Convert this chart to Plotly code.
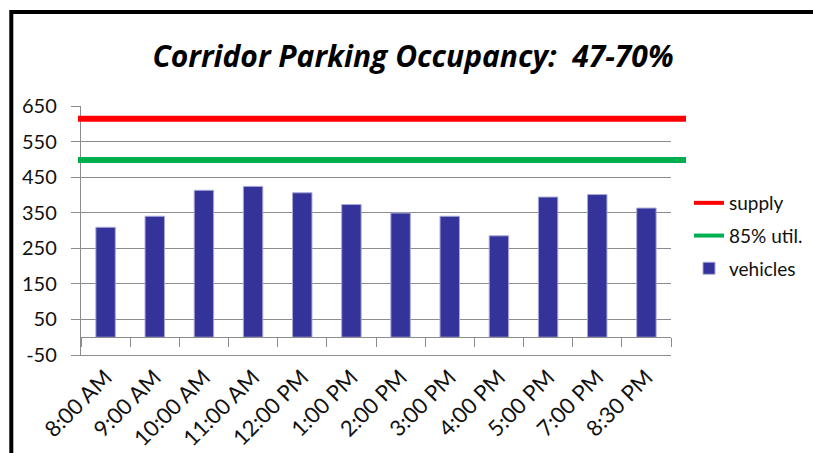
import plotly.graph_objects as go

# ---- data ----
times = ["8:00 AM", "9:00 AM", "10:00 AM", "11:00 AM", "12:00 PM", "1:00 PM",
         "2:00 PM", "3:00 PM", "4:00 PM", "5:00 PM", "7:00 PM", "8:30 PM"]
vehicles = [309, 340, 413, 424, 406, 373, 349, 340, 285, 394, 401, 363]
supply = 614
util85 = 498
y_ticks = [-50, 50, 150, 250, 350, 450, 550, 650]
y_tick_text = [str(v) + "\u00a0\u00a0" for v in y_ticks]

title_text = "Corridor Parking Occupancy:\u00a0\u00a047-70%"

RED = "#ff0000"
GREEN = "#00b050"
BLUE = "#333399"
GRID = "#8c8c8c"
FONT = "Lato, 'Open Sans', sans-serif"
TXT = "#111111"

W, H = 813, 453
L, R, T, B = 81, 142, 106, 98
pw, ph = W - L - R, H - T - B

def px_x(px):
    return (px - L) / pw

def px_y(py):
    return (H - B - py) / ph

fig = go.Figure()

# legend-only entries for the reference lines
fig.add_trace(go.Scatter(x=[None], y=[None], mode="lines", name="supply",
                         line=dict(color=RED, width=4), legendgroup="a"))
fig.add_trace(go.Scatter(x=[None], y=[None], mode="lines", name="85% util.",
                         line=dict(color=GREEN, width=4), legendgroup="b"))
fig.add_trace(go.Bar(x=times, y=vehicles, name="vehicles", legendgroup="c",
                     marker=dict(color=BLUE, line=dict(color="#a8a8d8", width=1))))
# helper trace for the category axis drawn at y = 0
fig.add_trace(go.Scatter(x=times, y=[None] * len(times), xaxis="x2",
                         showlegend=False, hoverinfo="skip", mode="lines"))

# supply and 85% lines (y from data, extend slightly beyond plot horizontally)
for val, col in [(supply, RED), (util85, GREEN)]:
    fig.add_shape(type="line", xref="paper", yref="y",
                  x0=px_x(78), x1=px_x(686), y0=val, y1=val,
                  line=dict(color=col, width=6), layer="above")

# outer black frame
fig.add_shape(type="rect", xref="paper", yref="paper",
              x0=px_x(11.3), x1=px_x(880), y0=px_y(500), y1=px_y(12),
              line=dict(color="black", width=4), fillcolor="rgba(0,0,0,0)")

ymin, ymax = -50, 650
fig.update_layout(
    width=W, height=H,
    margin=dict(l=L, r=R, t=T, b=B, autoexpand=False),
    paper_bgcolor="white", plot_bgcolor="white",
    font=dict(family=FONT, size=20, color=TXT),
    title=dict(text=title_text, xref="container", yref="container",
               x=413 / W, xanchor="center", y=1 - 56.5 / H, yanchor="middle",
               font=dict(family="'Open Sans', sans-serif",
                         size=30, color="black", weight="bold", style="italic")),
    bargap=0.605,
    showlegend=True,
    legend=dict(x=px_x(689), xanchor="left", y=px_y(236), yanchor="middle",
                traceorder="grouped", tracegroupgap=5,
                font=dict(family=FONT, size=19, color=TXT),
                bgcolor="rgba(0,0,0,0)"),
    xaxis=dict(type="category", categoryorder="array", categoryarray=times,
               range=[-0.5, len(times) - 0.5],
               showline=True, linecolor=GRID, linewidth=1,
               showgrid=False, ticks="", tickangle=-45,
               tickfont=dict(family=FONT, size=22, color=TXT)),
    xaxis2=dict(type="category", categoryorder="array", categoryarray=times,
                range=[-0.5, len(times) - 0.5], overlaying="x",
                anchor="free", position=(0 - ymin) / (ymax - ymin), side="bottom",
                showline=True, linecolor=GRID, linewidth=1,
                ticks="outside", tickson="boundaries", ticklen=9, tickcolor=GRID,
                showticklabels=False, showgrid=False),
    yaxis=dict(range=[ymin, ymax], tickvals=y_ticks, ticktext=y_tick_text,
               showline=True, linecolor=GRID, linewidth=1,
               showgrid=True, gridcolor=GRID, gridwidth=1,
               zeroline=False,
               ticks="outside", ticklen=9, tickcolor=GRID,
               tickfont=dict(family=FONT, size=20, color=TXT)),
)

fig.write_html("out.html", config={"displayModeBar": False},
               post_script="document.body.style.margin='0px';")
